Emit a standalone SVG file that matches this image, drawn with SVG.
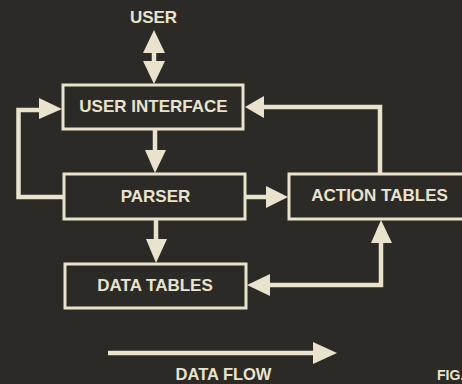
<svg xmlns="http://www.w3.org/2000/svg" width="462" height="384" viewBox="0 0 462 384">
<style>
.box{fill:none;stroke:#e9e3cd;stroke-width:3}
.ln{fill:none;stroke:#e9e3cd;stroke-width:4.5;stroke-linejoin:miter}
.hd{fill:#e9e3cd;stroke:none}
.t{font-family:"Liberation Sans",Arial,sans-serif;font-weight:bold;fill:#e9e3cd;text-anchor:middle}
</style>
<rect x="0" y="0" width="462" height="384" fill="#2b2a27"/>
<g id="user"><text class="t" x="153.5" y="23" font-size="17">USER</text></g>
<g id="user-interface"><rect class="box" x="63" y="85" width="180" height="44"/><text class="t" x="153.5" y="112" font-size="17">USER INTERFACE</text></g>
<g id="parser"><rect class="box" x="64" y="174" width="181" height="45"/><text class="t" x="155.5" y="202" font-size="17">PARSER</text></g>
<g id="action-tables"><rect class="box" x="289" y="174" width="190" height="45"/><text class="t" x="379.5" y="201" font-size="17">ACTION TABLES</text></g>
<g id="data-tables"><rect class="box" x="65" y="264" width="181" height="44"/><text class="t" x="155" y="291" font-size="17">DATA TABLES</text></g>
<g id="legend"><text class="t" x="223.5" y="380" font-size="16.5">DATA FLOW</text><text class="t" x="437" y="380" font-size="14" style="text-anchor:start">FIG.</text></g>
<g id="connectors">
<line class="ln" x1="154" y1="52" x2="154" y2="62" stroke-width="6"/>
<polygon class="hd" points="154,30 165,53 143,53"/>
<polygon class="hd" points="143,61 165,61 154,84"/>
<line class="ln" x1="155" y1="130" x2="155" y2="151" stroke-width="6"/>
<polygon class="hd" points="145,150 166,150 155,173"/>
<line class="ln" x1="156" y1="220" x2="156" y2="240" stroke-width="6"/>
<polygon class="hd" points="146,239 167,239 156,263"/>
<line class="ln" x1="245" y1="197" x2="268" y2="197" stroke-width="6"/>
<polygon class="hd" points="266,186 266,208 288,197"/>
<polyline class="ln" points="63,197 18.5,197 18.5,110 41,110"/>
<polygon class="hd" points="39,98 39,119 62,109"/>
<polyline class="ln" points="380,174 380,107 262,107"/>
<polygon class="hd" points="264,96 264,118 245,107"/>
<polyline class="ln" points="381,242 381,285 268,285"/>
<polygon class="hd" points="381,220 392,243 371,243"/>
<polygon class="hd" points="270,274 270,296 247,285"/>
<line class="ln" x1="108" y1="353" x2="315" y2="353" stroke-width="5"/>
<polygon class="hd" points="313,342 313,364 337,353"/>
</g>
</svg>
